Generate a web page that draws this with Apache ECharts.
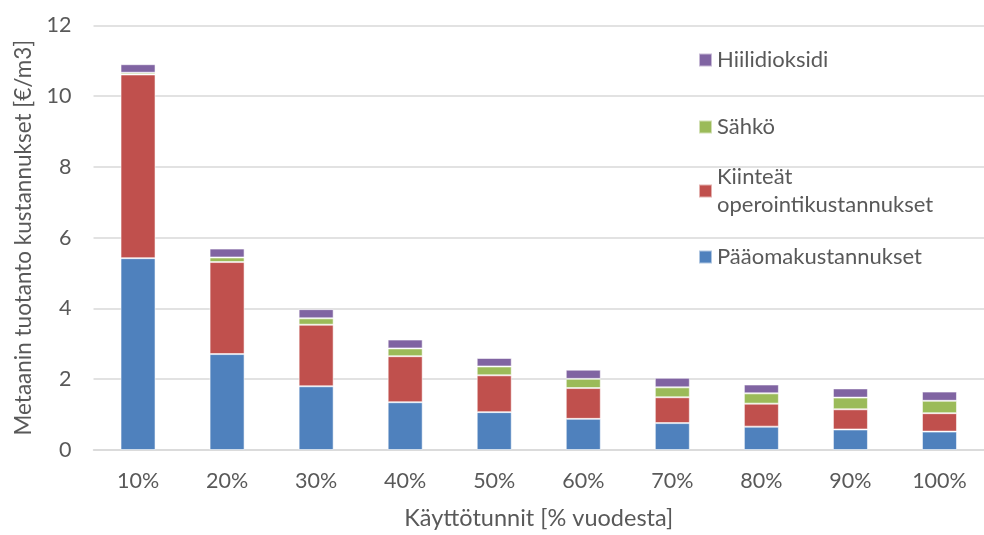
<!DOCTYPE html>
<html>
<head>
<meta charset="utf-8">
<script src="https://cdn.jsdelivr.net/npm/echarts@6/dist/echarts.min.js"></script>
<style>html,body{margin:0;padding:0;background:#fff}#c{width:984px;height:535px}</style>
</head>
<body>
<div id="c"></div>
<script>
var categories = ['10%','20%','30%','40%','50%','60%','70%','80%','90%','100%'];
var paaoma = [5.42, 2.71, 1.80, 1.35, 1.07, 0.88, 0.76, 0.66, 0.58, 0.52];
var kiintea = [5.19, 2.60, 1.74, 1.30, 1.04, 0.87, 0.73, 0.65, 0.57, 0.52];
var sahko = [0.05, 0.13, 0.18, 0.22, 0.25, 0.26, 0.28, 0.29, 0.33, 0.35];
var hiili = [0.24, 0.25, 0.26, 0.25, 0.24, 0.26, 0.27, 0.25, 0.26, 0.26];
var yTicks = [0, 2, 4, 6, 8, 10, 12];
var names = ['Pääomakustannukset', 'Kiinteät operointikustannukset', 'Sähkö', 'Hiilidioksidi'];
var colors = ['#4F81BD', '#C0504D', '#9BBB59', '#8064A2'];

var FONT = 'Lato';
var TXT = '#595959';
var chart = echarts.init(document.getElementById('c'));

function mkLegend(name, top, extra) {
  var ts = {fontFamily: FONT, fontSize: 22, color: TXT, lineHeight: 28};
  if (extra) { Object.assign(ts, extra); }
  return {
    data: [name], left: 698, top: top, orient: 'vertical', icon: 'rect',
    itemWidth: 13, itemHeight: 13, padding: 0, selectedMode: false,
    textStyle: ts,
    formatter: function (n) { return n === 'Kiinteät operointikustannukset' ? 'Kiinteät\noperointikustannukset' : n; }
  };
}

var seriesData = [paaoma, kiintea, sahko, hiili];
var series = seriesData.map(function (d, i) {
  return {
    name: names[i], type: 'bar', stack: 'total', data: d, barWidth: 35,
    itemStyle: {color: colors[i], borderColor: 'rgba(255,255,255,0.55)', borderWidth: 1},
    emphasis: {disabled: true}
  };
});

chart.setOption({
  animation: false,
  textStyle: {fontFamily: FONT},
  grid: {left: 93.5, right: -9.5, top: 25.3, bottom: 535 - 453.3, containLabel: false},
  legend: [
    mkLegend('Hiilidioksidi', 60 - 14),
    mkLegend('Sähkö', 127 - 14),
    mkLegend('Kiinteät operointikustannukset', 191 - 42, {padding: [28, 0, 0, 0]}),
    mkLegend('Pääomakustannukset', 257 - 14)
  ],
  xAxis: {
    type: 'category', data: categories,
    axisLine: {show: true, lineStyle: {color: '#d9d9d9', width: 1.5}},
    axisTick: {show: false},
    axisLabel: {fontFamily: FONT, fontSize: 21.5, color: TXT, margin: 20},
    name: 'Käyttötunnit [% vuodesta]', nameLocation: 'middle', nameGap: 56,
    nameTextStyle: {fontFamily: FONT, fontSize: 23.5, color: TXT}
  },
  yAxis: {
    type: 'value', min: yTicks[0], max: yTicks[yTicks.length - 1], interval: 2,
    axisLine: {show: false}, axisTick: {show: false},
    splitLine: {lineStyle: {color: '#d9d9d9', width: 1.5}},
    axisLabel: {fontFamily: FONT, fontSize: 21.5, color: TXT, margin: 22},
    name: 'Metaanin tuotanto kustannukset [€/m3]', nameLocation: 'middle', nameGap: 54,
    nameTextStyle: {fontFamily: FONT, fontSize: 22.5, color: TXT}
  },
  series: series
});
</script>
</body>
</html>
